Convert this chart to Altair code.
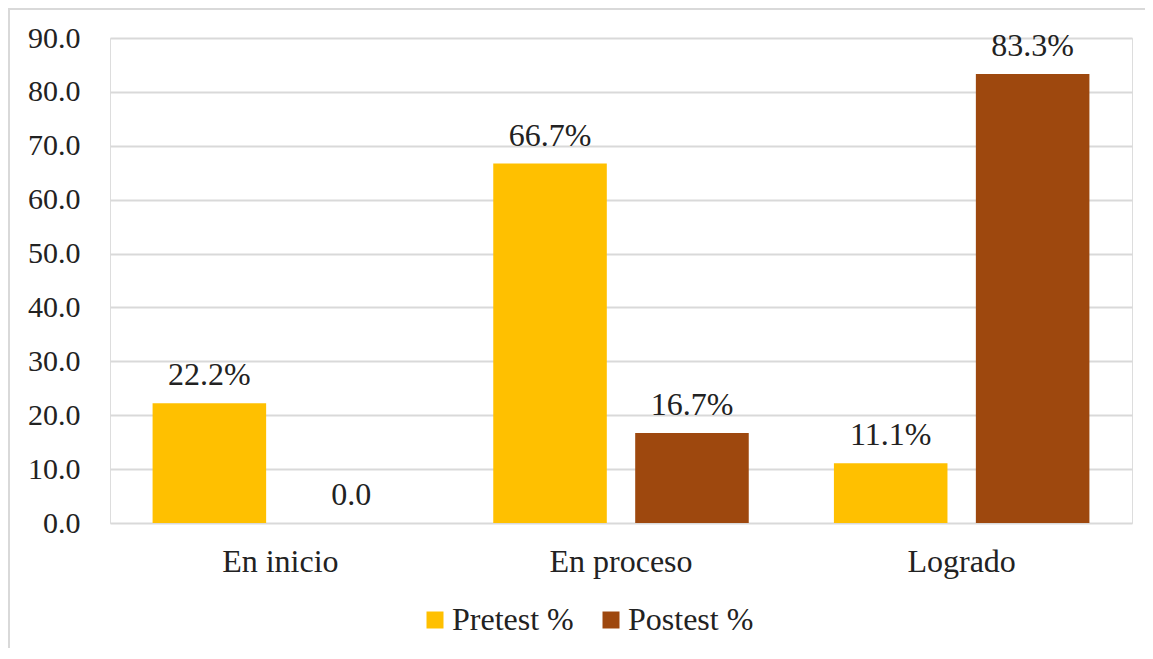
import altair as alt
import pandas as pd

categorias = ["En inicio", "En proceso", "Logrado"]
series = ["Pretest %", "Postest %"]
pretest = [22.2, 66.7, 11.1]
postest = [0.0, 16.7, 83.3]
pretest_etiquetas = ["22.2%", "66.7%", "11.1%"]
postest_etiquetas = ["0.0", "16.7%", "83.3%"]
y_ticks = [0, 10, 20, 30, 40, 50, 60, 70, 80, 90]
colores = ["#FFC000", "#9E480E"]

rows = []
for c, v, e in zip(categorias, pretest, pretest_etiquetas):
    rows.append({"categoria": c, "serie": series[0], "valor": v, "etiqueta": e})
for c, v, e in zip(categorias, postest, postest_etiquetas):
    rows.append({"categoria": c, "serie": series[1], "valor": v, "etiqueta": e})
df = pd.DataFrame(rows)

FONT = "'Times New Roman', 'Liberation Serif', Tinos, 'DejaVu Serif', serif"
W, H = 1022, 485

base = alt.Chart(df).encode(
    x=alt.X("categoria:N", sort=categorias, title=None,
            scale=alt.Scale(paddingInner=0.25, paddingOuter=0.125),
            axis=alt.Axis(labelAngle=0, domain=False, ticks=False, grid=False,
                          labelFont=FONT, labelFontSize=32, labelColor="#222222",
                          labelPadding=23)),
    xOffset=alt.XOffset("serie:N", sort=series,
                        scale=alt.Scale(paddingInner=0.2, paddingOuter=0)),
)

bars = base.mark_bar().encode(
    y=alt.Y("valor:Q", title=None,
            scale=alt.Scale(domain=[0, 90], nice=False, zero=True),
            axis=alt.Axis(values=y_ticks, format=".1f", domain=False, ticks=False,
                          grid=True, gridColor="#D9D9D9", gridWidth=2,
                          labelFont=FONT, labelFontSize=30, labelColor="#222222",
                          labelPadding=30)),
    color=alt.Color("serie:N", sort=series,
                    scale=alt.Scale(domain=series, range=colores),
                    legend=alt.Legend(title=None, orient="none", legendX=309, legendY=566,
                                      direction="horizontal", symbolType="square",
                                      symbolSize=289, symbolStrokeWidth=0,
                                      labelFont=FONT, labelFontSize=32,
                                      labelColor="#222222", labelOffset=1,
                                      columnPadding=21, padding=0)),
)

labels = base.mark_text(font=FONT, fontSize=32, color="#222222",
                        baseline="alphabetic", dy=-18).encode(
    y=alt.Y("valor:Q"),
    text=alt.Text("etiqueta:N"),
)

frame_df = pd.DataFrame({"k": [0]})
frame_left = alt.Chart(frame_df).mark_rule(color="#D9D9D9", strokeWidth=2).encode(
    x=alt.value(-101), y=alt.value(-30), y2=alt.value(H + 200))
frame_top = alt.Chart(frame_df).mark_rule(color="#D9D9D9", strokeWidth=2).encode(
    x=alt.value(-102), x2=alt.value(W + 20), y=alt.value(-29))

chart = alt.layer(bars, labels, frame_left, frame_top).properties(
    width=W, height=H,
    autosize=alt.AutoSizeParams(type="none"),
    padding={"left": 102, "top": 30, "right": 13, "bottom": 125},
).configure_view(stroke=None).configure(background="white")

chart.save("out.html", embed_options={"renderer": "svg", "actions": False})
